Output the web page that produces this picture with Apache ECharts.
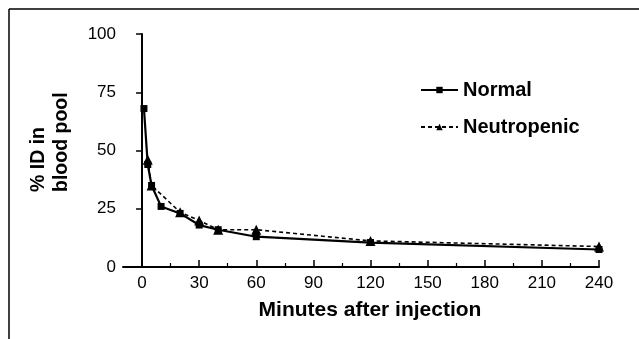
<!DOCTYPE html>
<html>
<head>
<meta charset="utf-8">
<script src="https://cdn.jsdelivr.net/npm/echarts@6/dist/echarts.min.js"></script>
<style>
  html, body { margin: 0; padding: 0; background: #fff; }
  #chart { width: 639px; height: 339px; }
</style>
</head>
<body>
<div id="chart"></div>
<script>
// minutes after injection, and % ID in blood pool
const normalTimes = [1, 3, 5, 10, 20, 30, 40, 60, 120, 240];
const normalValues = [68, 44, 35, 26, 23, 18, 16, 13, 10.5, 7.5];
const neutropenicTimes = [3, 5, 20, 30, 40, 60, 120, 240];
const neutropenicValues = [46, 35, 23.5, 20, 16, 16, 11.2, 8.8];

const xMajorTicks = [0, 30, 60, 90, 120, 150, 180, 210, 240];
const xMinorTicks = [15, 45, 75, 105, 135, 165, 195, 225];

const FONT = 'Liberation Sans, Arial, sans-serif';

const pairs = (xs, ys) => xs.map((x, i) => [x, ys[i]]);

const chart = echarts.init(document.getElementById('chart'));

const option = {
  animation: false,
  backgroundColor: '#fff',
  textStyle: { fontFamily: FONT, color: '#000' },
  grid: { left: 123, right: 40, top: 34, bottom: 72 },
  legend: {
    orient: 'vertical',
    left: 420,
    top: 80,
    padding: 0,
    itemGap: 17,
    itemWidth: 37,
    itemHeight: 8,
    textStyle: { fontFamily: FONT, fontWeight: 'bold', fontSize: 20, color: '#000' },
    data: ['Normal', 'Neutropenic'],
  },
  xAxis: [
    {
      type: 'value',
      min: -10,
      max: 240,
      splitLine: { show: false },
      axisLine: { lineStyle: { color: '#000', width: 2 } },
      axisTick: { inside: true, length: 7, customValues: xMajorTicks, lineStyle: { color: '#000', width: 1.5 } },
      axisLabel: { customValues: xMajorTicks, margin: 8, fontSize: 17, color: '#000', fontFamily: FONT },
    },
    {
      // minor ticks between the labelled ones
      type: 'value',
      min: -10,
      max: 240,
      position: 'bottom',
      splitLine: { show: false },
      axisLine: { show: false },
      axisTick: { inside: true, length: 4, customValues: xMinorTicks, lineStyle: { color: '#000', width: 1.2 } },
      axisLabel: { show: false },
    },
  ],
  yAxis: {
    type: 'value',
    min: 0,
    max: 100,
    interval: 25,
    splitLine: { show: false },
    axisLine: { show: true, lineStyle: { color: '#000', width: 2 } },
    axisTick: { show: true, length: 6, lineStyle: { color: '#000', width: 1.5 } },
    axisLabel: { margin: 7, fontSize: 17, color: '#000', fontFamily: FONT },
  },
  series: [
    {
      name: 'Normal',
      type: 'line',
      data: pairs(normalTimes, normalValues),
      symbol: 'rect',
      symbolSize: 7,
      itemStyle: { color: '#000' },
      lineStyle: { color: '#000', width: 2.2 },
      z: 2,
    },
    {
      name: 'Neutropenic',
      type: 'line',
      data: pairs(neutropenicTimes, neutropenicValues),
      symbol: 'triangle',
      symbolSize: 10,
      itemStyle: { color: '#000' },
      lineStyle: { color: '#000', width: 1.6, type: [4, 3] },
      z: 3,
    },
  ],
  graphic: [
    // frame lines on the top and left edges
    { type: 'line', shape: { x1: 9, y1: 9, x2: 639, y2: 9 }, style: { stroke: '#000', lineWidth: 1.5 } },
    { type: 'line', shape: { x1: 9, y1: 9, x2: 9, y2: 339 }, style: { stroke: '#000', lineWidth: 1.5 } },
    {
      type: 'text',
      x: 50,
      y: 192,
      rotation: Math.PI / 2,
      style: {
        text: '% ID in\nblood pool',
        fontFamily: FONT,
        fontWeight: 'bold',
        fontSize: 19.5,
        lineHeight: 23,
        fill: '#000',
        textAlign: 'left',
        textVerticalAlign: 'middle',
      },
    },
    {
      type: 'text',
      x: 370,
      y: 310,
      style: {
        text: 'Minutes after injection',
        fontFamily: FONT,
        fontWeight: 'bold',
        fontSize: 21,
        fill: '#000',
        textAlign: 'center',
        textVerticalAlign: 'middle',
      },
    },
  ],
};

chart.setOption(option);
</script>
</body>
</html>
